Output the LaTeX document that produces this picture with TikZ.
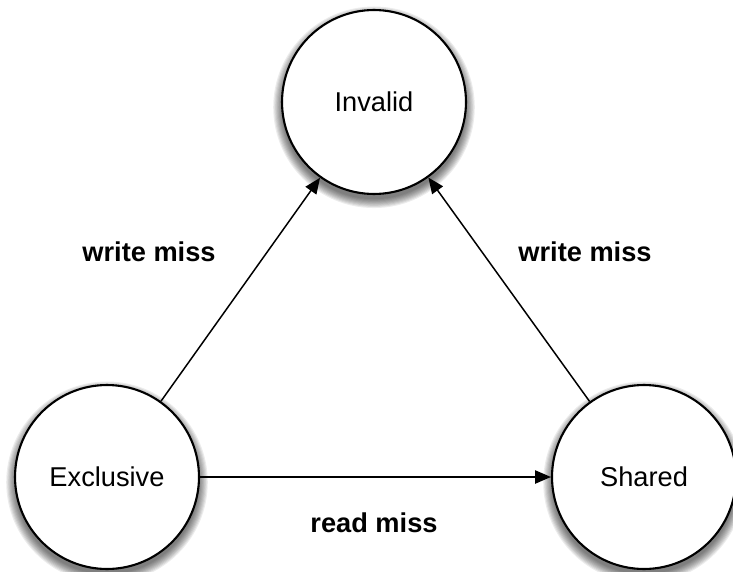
\documentclass[tikz,border=0pt]{standalone}
\usepackage{fontspec}
\setmainfont{Liberation Sans}
\usetikzlibrary{arrows.meta,backgrounds}
\tikzset{
  state/.style={circle,draw,line width=1.2pt,fill=white,minimum size=3.68cm,inner sep=0pt,
    font=\fontsize{15.5}{18}\selectfont},
  lbl/.style={font=\fontsize{15.5}{18}\selectfont\bfseries},
  trans/.style={-{Triangle[length=9pt,width=7.5pt]},line width=0.85pt}
}
\begin{document}
\begin{tikzpicture}[x=0.02cm,y=-0.02cm]
  \useasboundingbox (0,0) rectangle (733,571);
  % the three cache states
  \node[state] (inv)  at (374,102) {Invalid};
  \node[state] (excl) at (107,477) {Exclusive};
  \node[state] (shr)  at (644,477) {Shared};
  % soft shadows under the states
  \begin{scope}[on background layer]
    \foreach \s in {inv,excl,shr}
      \foreach \k in {0,...,8}
        \fill[black,opacity=0.075,shift={(\s.center)},yshift=-3pt] (0,0) circle ({1.84cm+\k*0.022cm});
  \end{scope}
  % transitions
  \draw[trans] (excl) -- (inv);
  \draw[trans] (shr) -- (inv);
  \draw[trans] (excl) -- (shr);
  \node[lbl] (wmL) at (149,252) {write miss};
  \node[lbl] (wmR) at (585,252) {write miss};
  \node[lbl] (rm)  at (374,523) {read miss};
\end{tikzpicture}
\end{document}
